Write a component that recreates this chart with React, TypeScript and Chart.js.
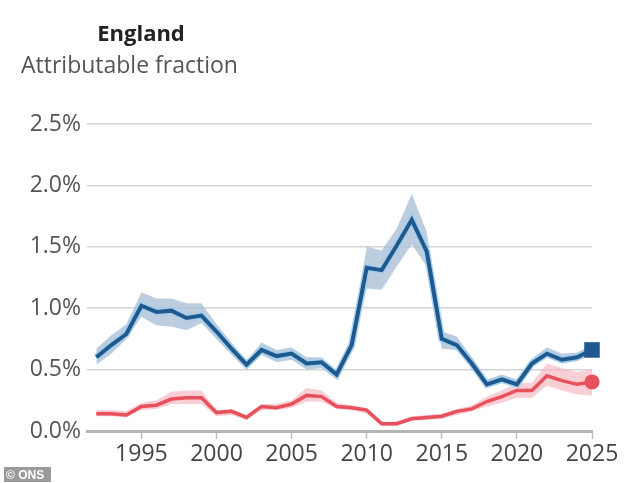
import { useRef, useEffect } from "react"
import { Chart, registerables } from "chart.js"

Chart.register(...registerables)

const years = [
  1992, 1993, 1994, 1995, 1996, 1997, 1998, 1999, 2000, 2001, 2002, 2003,
  2004, 2005, 2006, 2007, 2008, 2009, 2010, 2011, 2012, 2013, 2014, 2015,
  2016, 2017, 2018, 2019, 2020, 2021, 2022, 2023, 2024, 2025,
]

const blueLine = [
  0.6, 0.7, 0.79, 1.02, 0.97, 0.98, 0.92, 0.94, 0.81, 0.67, 0.54, 0.66,
  0.61, 0.63, 0.55, 0.56, 0.46, 0.7, 1.33, 1.31, 1.51, 1.72, 1.46, 0.75,
  0.7, 0.55, 0.38, 0.42, 0.38, 0.55, 0.63, 0.58, 0.6, 0.66,
]
const blueUpper = [
  0.67, 0.78, 0.87, 1.13, 1.08, 1.08, 1.04, 1.04, 0.87, 0.72, 0.57, 0.72,
  0.66, 0.68, 0.6, 0.6, 0.49, 0.73, 1.5, 1.47, 1.65, 1.93, 1.62, 0.81,
  0.77, 0.6, 0.42, 0.46, 0.42, 0.59, 0.68, 0.63, 0.64, 0.7,
]
const blueLower = [
  0.54, 0.63, 0.75, 0.93, 0.86, 0.85, 0.82, 0.88, 0.75, 0.62, 0.5, 0.62,
  0.56, 0.58, 0.5, 0.51, 0.42, 0.67, 1.16, 1.15, 1.34, 1.52, 1.34, 0.67,
  0.66, 0.51, 0.35, 0.39, 0.36, 0.52, 0.6, 0.55, 0.57, 0.62,
]

const redLine = [
  0.14, 0.14, 0.13, 0.2, 0.21, 0.26, 0.27, 0.27, 0.15, 0.16, 0.11, 0.2,
  0.19, 0.22, 0.29, 0.28, 0.2, 0.19, 0.17, 0.06, 0.06, 0.1, 0.11, 0.12,
  0.16, 0.18, 0.24, 0.28, 0.33, 0.33, 0.45, 0.41, 0.38, 0.4,
]
const redUpper = [
  0.17, 0.17, 0.16, 0.23, 0.25, 0.32, 0.33, 0.33, 0.17, 0.18, 0.13, 0.22,
  0.22, 0.25, 0.35, 0.33, 0.23, 0.21, 0.19, 0.07, 0.08, 0.12, 0.13, 0.14,
  0.18, 0.21, 0.28, 0.33, 0.39, 0.39, 0.55, 0.51, 0.48, 0.5,
]
const redLower = [
  0.12, 0.12, 0.11, 0.17, 0.18, 0.22, 0.22, 0.22, 0.12, 0.13, 0.09, 0.17,
  0.17, 0.19, 0.24, 0.24, 0.18, 0.17, 0.14, 0.04, 0.04, 0.085, 0.09, 0.1,
  0.13, 0.16, 0.2, 0.23, 0.27, 0.27, 0.37, 0.33, 0.3, 0.29,
]

const xTicks = [1995, 2000, 2005, 2010, 2015, 2020, 2025]

const BLUE = "#1f5a8f"
const RED = "#e8505b"
const FONT = "'Open Sans', sans-serif"

const pts = (vals: number[]) => years.map((y, i) => ({ x: y, y: vals[i] }))
const last = (vals: number[]) => [{ x: years[years.length - 1], y: vals[vals.length - 1] }]

const textPlugin = {
  id: "headerText",
  afterDraw(chart: Chart) {
    const ctx = chart.ctx
    ctx.save()
    ctx.textBaseline = "alphabetic"
    ctx.textAlign = "center"
    ctx.fillStyle = "#222"
    ctx.font = `bold 22px ${FONT}`
    ctx.fillText("England", 141, 41)
    ctx.textAlign = "left"
    ctx.fillStyle = "#555"
    ctx.font = `23px ${FONT}`
    ctx.fillText("Attributable fraction", 21, 73)
    // source badge
    ctx.fillStyle = "#9a9a9a"
    ctx.fillRect(4, 467, 47, 15)
    ctx.fillStyle = "#fff"
    ctx.font = "bold 12px 'Liberation Sans', Arial, sans-serif"
    ctx.fillText("© ONS", 6, 479)
    ctx.restore()
  },
}

export default function App() {
  const chartRef = useRef<HTMLCanvasElement>(null)
  const chartInstance = useRef<Chart | null>(null)

  useEffect(() => {
    if (!chartRef.current) return
    if (chartInstance.current) chartInstance.current.destroy()
    const ctx = chartRef.current.getContext("2d")
    if (!ctx) return

    const band = (data: number[], color: string, fill: any) => ({
      data: pts(data),
      borderWidth: 0,
      pointRadius: 0,
      backgroundColor: color,
      fill,
      order: 10,
    })

    chartInstance.current = new Chart(ctx, {
      type: "line",
      data: {
        datasets: [
          band(blueUpper, "rgba(170,192,215,0.8)", false),
          band(blueLower, "rgba(170,192,215,0.8)", "-1"),
          band(redUpper, "rgba(247,180,190,0.65)", false),
          band(redLower, "rgba(247,180,190,0.65)", "-1"),
          {
            data: pts(blueLine),
            borderColor: "rgba(165,205,238,0.9)",
            borderWidth: 7,
            pointRadius: 0,
            fill: false,
            order: 5,
          },
          {
            data: pts(blueLine),
            borderColor: BLUE,
            borderWidth: 4,
            pointRadius: 0,
            fill: false,
            order: 3,
          },
          {
            data: pts(redLine),
            borderColor: RED,
            borderWidth: 3.5,
            pointRadius: 0,
            fill: false,
            order: 4,
          },
          {
            data: last(blueLine),
            pointStyle: "rect",
            pointRadius: 11,
            backgroundColor: BLUE,
            borderColor: BLUE,
            borderWidth: 0,
            showLine: false,
            clip: false,
            order: 1,
          },
          {
            data: last(redLine),
            pointStyle: "circle",
            pointRadius: 7.5,
            backgroundColor: RED,
            borderColor: RED,
            borderWidth: 0,
            showLine: false,
            clip: false,
            order: 1,
          },
        ] as any,
      },
      options: {
        animation: false,
        responsive: false,
        maintainAspectRatio: false,
        layout: { padding: { top: 124, left: 0, right: 41, bottom: 0 } },
        plugins: {
          legend: { display: false },
          tooltip: { enabled: false },
        },
        elements: { line: { tension: 0 } },
        scales: {
          x: {
            type: "linear",
            min: 1991.38,
            max: 2025,
            afterBuildTicks: (scale: any) => {
              scale.ticks = xTicks.map((v) => ({ value: v }))
            },
            afterFit: (scale: any) => {
              scale.height = 52
            },
            grid: {
              drawOnChartArea: false,
              drawTicks: true,
              tickLength: 8,
              tickWidth: 1.5,
              tickColor: "#bdbdbd",
            },
            border: { display: true, color: "#b5b5b5", width: 3 },
            ticks: {
              color: "#444",
              font: { family: FONT, size: 23 },
              padding: 2,
              maxRotation: 0,
              autoSkip: false,
              callback: (v: any) => String(v),
            },
          },
          y: {
            min: 0,
            max: 2.5,
            afterFit: (scale: any) => {
              scale.width = 87
            },
            grid: {
              color: "#d4d4d4",
              lineWidth: 1.5,
              drawTicks: false,
            },
            border: { display: false },
            ticks: {
              stepSize: 0.5,
              color: "#555",
              padding: 6,
              font: { family: FONT, size: 23 },
              callback: (v: any) => Number(v).toFixed(1) + "%",
            },
          },
        },
      },
      plugins: [textPlugin],
    })

    return () => {
      if (chartInstance.current) {
        chartInstance.current.destroy()
        chartInstance.current = null
      }
    }
  }, [])

  return (
    <div style={{ position: "absolute", left: 0, top: 0, width: 633, height: 483, background: "#fff" }}>
      <canvas ref={chartRef} width={633} height={483} style={{ width: 633, height: 483 }} />
    </div>
  )
}
